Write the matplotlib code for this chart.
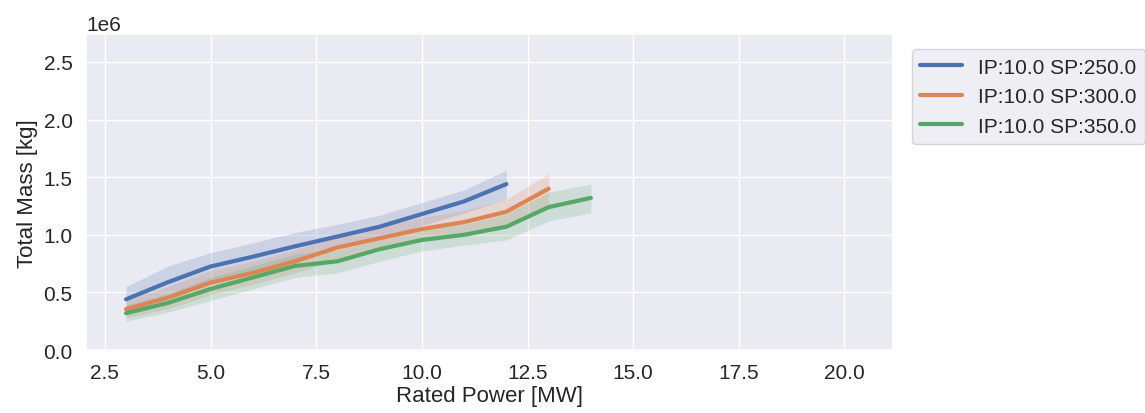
import numpy as np
import matplotlib
matplotlib.use("Agg")
import matplotlib.pyplot as plt
import seaborn as sns

# Rated power [MW] per series
power_250 = [3, 4, 5, 6, 7, 8, 9, 10, 11, 12]
power_300 = [3, 4, 5, 6, 7, 8, 9, 10, 11, 12, 13]
power_350 = [3, 4, 5, 6, 7, 8, 9, 10, 11, 12, 13, 14]

# Total mass (mean, lower, upper) in 1e6 kg
mass_250 = [0.44, 0.59, 0.725, 0.81, 0.90, 0.985, 1.07, 1.18, 1.29, 1.44]
low_250 = [0.33, 0.45, 0.60, 0.69, 0.78, 0.88, 0.97, 1.08, 1.19, 1.31]
high_250 = [0.55, 0.73, 0.845, 0.93, 1.02, 1.09, 1.17, 1.28, 1.39, 1.56]

mass_300 = [0.355, 0.455, 0.585, 0.67, 0.77, 0.89, 0.97, 1.05, 1.11, 1.20, 1.40]
low_300 = [0.28, 0.36, 0.48, 0.57, 0.67, 0.78, 0.87, 0.95, 1.01, 1.09, 1.26]
high_300 = [0.43, 0.55, 0.69, 0.77, 0.87, 0.98, 1.07, 1.15, 1.21, 1.31, 1.53]

mass_350 = [0.32, 0.41, 0.53, 0.63, 0.73, 0.77, 0.875, 0.955, 1.00, 1.07, 1.24, 1.32]
low_350 = [0.25, 0.33, 0.43, 0.53, 0.63, 0.67, 0.77, 0.86, 0.91, 0.955, 1.12, 1.19]
high_350 = [0.39, 0.49, 0.63, 0.73, 0.83, 0.87, 0.98, 1.05, 1.09, 1.18, 1.37, 1.44]

labels = ["IP:10.0 SP:250.0", "IP:10.0 SP:300.0", "IP:10.0 SP:350.0"]

sns.set_theme(style="darkgrid")
plt.rcParams['font.family'] = ['Liberation Sans', 'DejaVu Sans']

fig = plt.figure(figsize=(11.45, 4.14), dpi=100)
ax = fig.add_axes([0.075, 0.152, 0.705, 0.763])

colors = sns.color_palette("deep")
series = [
    (power_250, mass_250, low_250, high_250),
    (power_300, mass_300, low_300, high_300),
    (power_350, mass_350, low_350, high_350),
]
for i, (x, m, lo, hi) in enumerate(series):
    m = np.array(m) * 1e6
    lo = np.array(lo) * 1e6
    hi = np.array(hi) * 1e6
    ax.plot(x, m, color=colors[i], lw=3, label=labels[i])
    ax.fill_between(x, lo, hi, color=colors[i], alpha=0.2, lw=0)

ax.set_xlim(2.05, 21.15)
ax.set_ylim(0, 2.74e6)
ax.set_xlabel("Rated Power [MW]", fontsize=16, labelpad=2)
ax.set_ylabel("Total Mass [kg]", fontsize=16)
ax.tick_params(labelsize=15)
ax.yaxis.get_offset_text().set_fontsize(15)

leg = ax.legend(loc="upper left", bbox_to_anchor=(1.01, 0.985), fontsize=15)
for line in leg.get_lines():
    line.set_linewidth(3)

fig.savefig("out.png", dpi=100)
